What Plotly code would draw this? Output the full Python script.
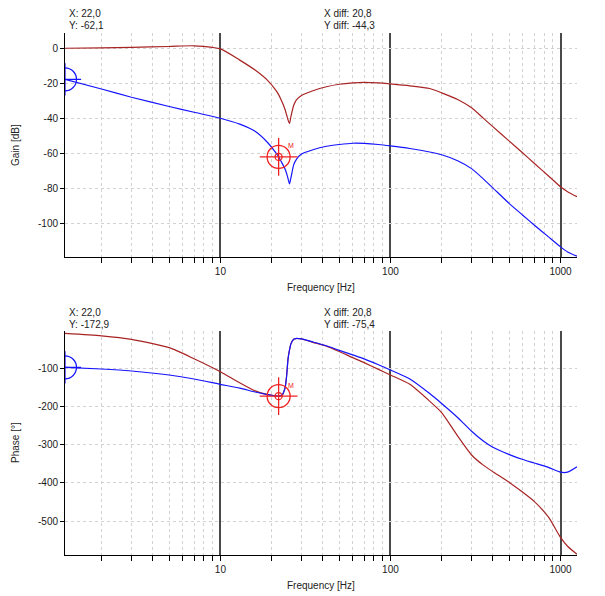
import math
import plotly.graph_objects as go

# ---------------- data ----------------
freq = [1.22, 2, 3, 5, 7, 10, 13, 16, 19, 21, 22, 23, 24, 24.5, 25, 25.5, 26, 27, 28, 30,
        35, 42, 50, 60, 70, 85, 100, 130, 170, 200, 250, 300, 350, 400, 500, 600, 700, 850,
        1000, 1100, 1250]

gain_red = [0, 0.2, 0.5, 1.0, 1.4, -0.4, -6.8, -12.5, -18.5, -23.5, -26.5, -30.5, -35, -38,
            -41, -43, -39, -32.6, -29.5, -27, -24.3, -22, -20.6, -19.8, -19.5, -19.8, -20.4,
            -21.5, -23.0, -25.5, -29.4, -34.0, -39.8, -44.8, -53.1, -59.9, -65.7, -73.0,
            -79.2, -82, -84.9]

gain_blue = [-17.8, -23.3, -28.0, -33.3, -36.6, -40, -43.4, -47.5, -54, -59.2, -62.1, -65.5,
             -69, -71.5, -74.5, -77.5, -74, -66.5, -63.5, -60.5, -58, -56, -55, -54.3, -54.4,
             -55, -55.8, -57.3, -59.3, -60.9, -64.4, -68.8, -74.5, -79.8, -88.8, -95.4, -101,
             -107.8, -113.5, -116.4, -118.8]

phase_red = [-8.6, -15, -24, -46, -75, -109, -138, -159, -169, -172, -173.5, -171, -151, -120,
             -74, -52, -35, -24, -22, -23, -32, -42, -56, -72, -85, -102.7, -117.5, -142,
             -186, -216, -279, -327, -353, -370.7, -399, -424.8, -448.5, -490, -543, -566,
             -587]

phase_blue = [-97.5, -101.8, -107, -117.5, -128, -142, -152, -162, -169, -172, -172.9, -170,
              -152, -122, -76, -52, -36, -24, -21.5, -23, -31, -41, -52.9, -64.9, -75.2,
              -90.7, -104.4, -128, -166, -192, -230, -265, -290, -307, -326, -339, -348,
              -359.5, -372, -372, -358]

cursor_x = [1.22, 22.0]
cursor_gain = [-17.8, -62.1]
cursor_phase = [-97.5, -172.9]

x_major = [10, 100, 1000]
x_major_labels = ["10", "100", "1000"]
x_minor = [2, 3, 4, 5, 6, 7, 8, 9, 20, 30, 40, 50, 60, 70, 80, 90,
           200, 300, 400, 500, 600, 700, 800, 900]

gain_ticks = [0, -20, -40, -60, -80, -100]
phase_ticks = [-100, -200, -300, -400, -500]

# ---------------- style ----------------
RED = "#a82424"
BLUE = "#1414ff"
CUR_RED = "#ee2020"
OFF = 8                      # the page body has an 8px margin
W, H = 605 - OFF, 596 - OFF
FONT = "Liberation Sans, Arial, sans-serif"


def fmt(v):
    return f"{v:.1f}".replace(".", ",")


def px_x(p):
    return (p - OFF) / W


def px_y(p):
    return 1 - (p - OFF) / H


x_dom = [px_x(65), px_x(577)]
top_dom = [px_y(257), px_y(33)]
bot_dom = [px_y(555), px_y(330.7)]

fig = go.Figure()

LINE_KW = dict(mode="lines", hoverinfo="skip")


def curve(y, color, xa, ya):
    return go.Scatter(x=freq, y=y, line=dict(color=color, width=1.2, shape="spline",
                                             smoothing=0.6),
                      xaxis=xa, yaxis=ya, **LINE_KW)


fig.add_trace(curve(gain_red, RED, "x", "y"))
fig.add_trace(curve(gain_blue, BLUE, "x", "y"))
fig.add_trace(curve(phase_red, RED, "x2", "y2"))
fig.add_trace(curve(phase_blue, BLUE, "x2", "y2"))


def marker_trace(x, y, xa, ya, symbol, size, color, width):
    return go.Scatter(x=[x], y=[y], mode="markers", xaxis=xa, yaxis=ya, hoverinfo="skip",
                      marker=dict(symbol=symbol, size=size, color=color,
                                  line=dict(color=color, width=width)))


for xa, ya, cy in (("x", "y", cursor_gain), ("x2", "y2", cursor_phase)):
    fig.add_trace(marker_trace(cursor_x[0], cy[0], xa, ya, "circle-open", 23, BLUE, 1.2))
    fig.add_trace(marker_trace(cursor_x[0], cy[0], xa, ya, "cross-thin-open", 23, BLUE, 1.2))
    fig.add_trace(marker_trace(cursor_x[1], cy[1], xa, ya, "circle-open", 23, CUR_RED, 1.3))
    fig.add_trace(marker_trace(cursor_x[1], cy[1], xa, ya, "cross-thin-open", 27, CUR_RED, 1.3))
    fig.add_trace(marker_trace(cursor_x[1], cy[1], xa, ya, "circle-open", 7, CUR_RED, 1.3))

xaxis_common = dict(
    type="log", range=[math.log10(1.22), math.log10(1250)], domain=x_dom,
    showline=True, linecolor="black", linewidth=1, mirror=False,
    ticks="outside", ticklen=5, tickcolor="black", tickwidth=1,
    tickmode="array", tickvals=x_major, ticktext=x_major_labels,
    showgrid=True, gridcolor="#4a4a4a", gridwidth=1.6,
    minor=dict(tickmode="array", tickvals=x_minor, ticks="outside", ticklen=5,
               tickcolor="black", tickwidth=1, showgrid=True, gridcolor="#d2d2d2",
               griddash="3px,3px", gridwidth=1),
    zeroline=False, automargin=False, tickfont=dict(size=10, color="#1a1a1a"),
)

yaxis_common = dict(
    showline=True, linecolor="black", linewidth=1, mirror=False,
    ticks="outside", ticklen=4, tickcolor="black", tickwidth=1,
    showgrid=True, gridcolor="#d2d2d2", griddash="3px,3px", gridwidth=1,
    zeroline=False, automargin=False, tickfont=dict(size=10, color="#1a1a1a"),
)

fig.update_layout(
    width=W, height=H, margin=dict(l=0, r=0, t=0, b=0),
    paper_bgcolor="white", plot_bgcolor="white", showlegend=False,
    font=dict(family=FONT, size=10, color="#1a1a1a"),
    xaxis=dict(xaxis_common, anchor="y"),
    yaxis=dict(yaxis_common, domain=top_dom, anchor="x", range=[-119.3, 8.7],
               tickmode="array", tickvals=gain_ticks,
               ticktext=[str(v) for v in gain_ticks]),
    xaxis2=dict(xaxis_common, anchor="y2"),
    yaxis2=dict(yaxis_common, domain=bot_dom, anchor="x2", range=[-589, -1.5],
                tickmode="array", tickvals=phase_ticks,
                ticktext=[str(v) for v in phase_ticks]),
)

ann = []
txt_font = dict(family=FONT, size=10, color="#222222")

for top_px, cy in ((13.5, cursor_gain), (312, cursor_phase)):
    lines_left = [f"X: {fmt(cursor_x[1])}", f"Y: {fmt(cy[1])}"]
    lines_right = [f"X diff: {fmt(cursor_x[1] - cursor_x[0])}",
                   f"Y diff: {fmt(cy[1] - cy[0])}"]
    for i in range(2):
        ann.append(dict(xref="paper", yref="paper", x=px_x(66.5), y=px_y(top_px + 12 * i),
                        xanchor="left", yanchor="middle", text=lines_left[i],
                        showarrow=False, font=txt_font))
        ann.append(dict(xref="paper", yref="paper", x=px_x(321.5), y=px_y(top_px + 12 * i),
                        xanchor="left", yanchor="middle", text=lines_right[i],
                        showarrow=False, font=txt_font))

for xa, ya, cy in (("x", "y", cursor_gain), ("x2", "y2", cursor_phase)):
    ann.append(dict(xref=xa, yref=ya, x=math.log10(cursor_x[1]), y=cy[1], text="M",
                    showarrow=False, xshift=12, yshift=11,
                    font=dict(family=FONT, size=7, color=CUR_RED)))

ann.append(dict(xref="paper", yref="paper", x=px_x(321), y=px_y(287), text="Frequency [Hz]",
                showarrow=False, font=txt_font, xanchor="center", yanchor="middle"))
ann.append(dict(xref="paper", yref="paper", x=px_x(321), y=px_y(585), text="Frequency [Hz]",
                showarrow=False, font=txt_font, xanchor="center", yanchor="middle"))
ann.append(dict(xref="paper", yref="paper", x=px_x(15), y=px_y(145), text="Gain [dB]",
                textangle=-90, showarrow=False, font=txt_font, xanchor="center",
                yanchor="middle"))
ann.append(dict(xref="paper", yref="paper", x=px_x(15), y=px_y(443), text="Phase [°]",
                textangle=-90, showarrow=False, font=txt_font, xanchor="center",
                yanchor="middle"))

fig.update_layout(annotations=ann)

fig.write_html("out.html")
